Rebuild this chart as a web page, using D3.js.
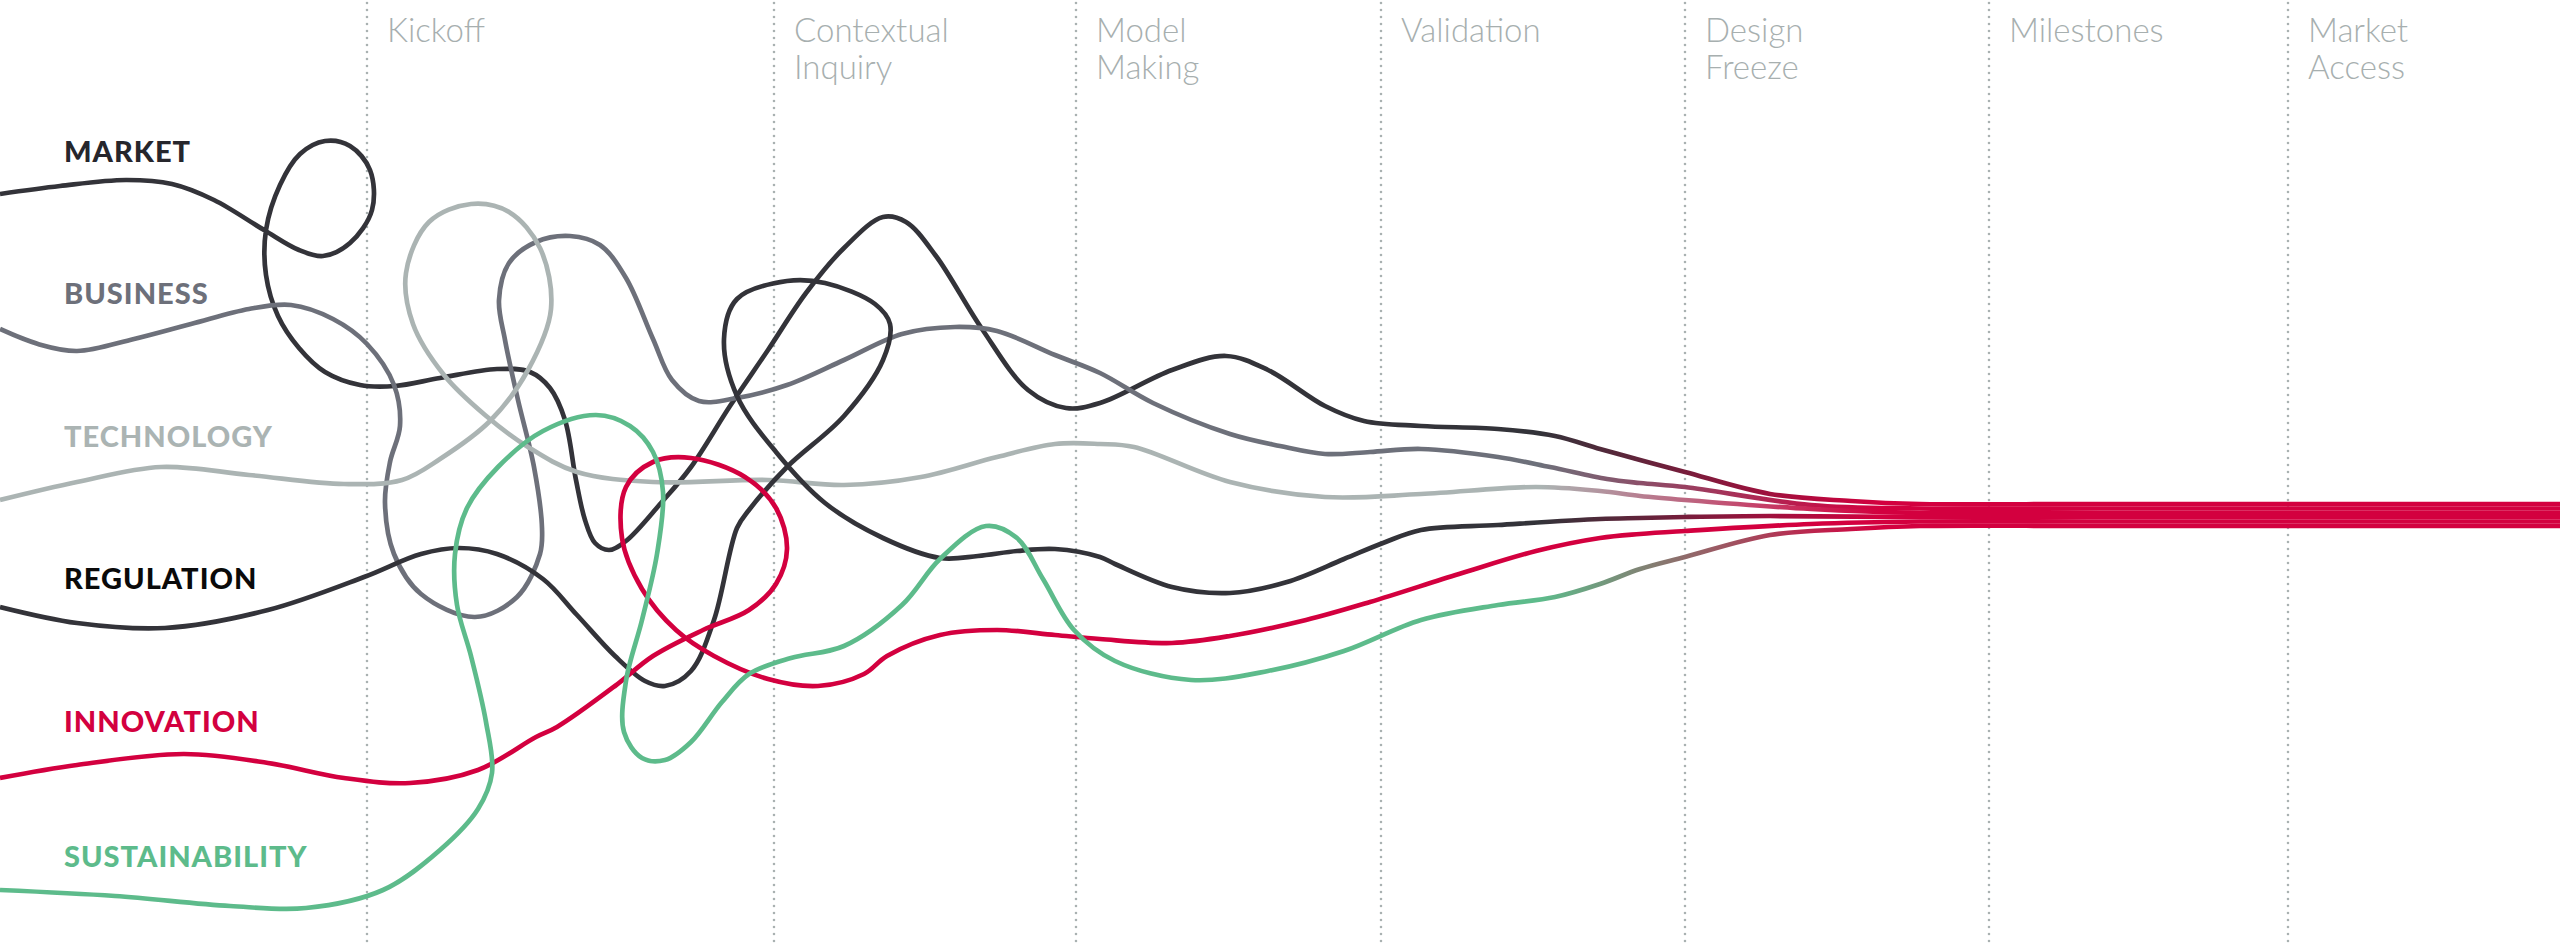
<!DOCTYPE html>
<html>
<head>
<meta charset="utf-8">
<script src="https://cdn.jsdelivr.net/npm/d3@7"></script>
<style>
  html, body { margin: 0; padding: 0; background: #fff; }
  svg { display: block; }
</style>
</head>
<body>
<div id="chart"></div>
<script>
// phases along the timeline (x in tenths of the canvas width units)
const phases = ["Kickoff", "Contextual\nInquiry", "Model\nMaking", "Validation", "Design\nFreeze", "Milestones", "Market\nAccess"];
const phaseX = [36.7, 77.4, 107.6, 138.1, 168.5, 198.9, 228.8];

const categories = ["MARKET", "BUSINESS", "TECHNOLOGY", "REGULATION", "INNOVATION", "SUSTAINABILITY"];
const labelY = [16.15, 30.4, 44.7, 58.9, 73.2, 86.7];
const lineColors = ["#333339", "#6d707a", "#abb4b3", "#333339", "#d3003f", "#5dbb8b"];
const labelColors = ["#26262c", "#6d707a", "#abb4b3", "#0a0a0a", "#d3003f", "#5dbb8b"];
const mergeColor = "#d3003f";
const mergeStart = 154, mergeEnd = 188;

// each thread: [x, y] points in sequence
const market = [[0,19.4],[6,18.6],[12.6,18],[17.2,18.4],[21.4,20],[26.4,23],[29.9,25],[32.3,25.6],[35,24.3],[37.2,21],[37,17],[35,14.6],[32.5,14.1],[30,15.4],[28,18.5],[26.6,23],[26.6,27.5],[27.8,31.6],[29.9,34.8],[32.5,37.2],[36,38.5],[39.5,38.6],[44,37.8],[49.7,36.9],[53,37.2],[55,38.8],[56.5,42],[57.6,48],[58.5,52],[59.5,54.3],[60.9,55],[62.6,54.1],[66.1,50.3],[69.1,46.7],[73,40.6],[76.8,35],[80.6,29.3],[84.4,24.8],[88.3,21.7],[90.6,22.2],[93.6,25.6],[98.2,32.9],[102.8,39],[106.6,40.8],[110,40.3],[117.2,37],[122.6,35.6],[126.8,37],[132.5,40.6],[136.4,42.1],[142.1,42.6],[149.8,42.9],[155.5,43.6],[160,44.9],[164,46],[168.5,47.2],[177,49.4],[185.1,50.1],[192,50.4],[210,50.4],[256,50.4]];
const business = [[0,32.9],[3.8,34.4],[7.7,35.1],[13.4,33.9],[19.1,32.4],[24.9,30.9],[29.1,30.5],[33.3,31.9],[36.7,34.4],[39.4,38.5],[40,42.6],[39,46.2],[38.5,50.3],[39.4,55.4],[42.1,59.4],[47.5,61.7],[51.7,59.7],[54,55.4],[54.2,52.8],[53.4,46.7],[51.8,40],[50.5,34],[49.9,30],[50.9,26.3],[53.6,24.2],[57,23.6],[60,24.5],[62.6,27.8],[65.3,33.9],[67.2,38],[69.9,40.1],[73.7,39.8],[78.7,38.5],[84.4,36],[90.2,33.4],[95.5,32.7],[99.7,33.1],[105.5,35.5],[110,37.3],[115.3,40.3],[123,43.4],[128,44.6],[132.5,45.4],[137,45.2],[142.1,44.9],[149.8,45.7],[155,46.7],[160.7,47.9],[164,48.3],[168.5,48.7],[181.1,50.5],[192,50.85],[210,50.85],[256,50.85]];
const technology = [[0,50],[7.7,48.2],[16.1,46.7],[24.9,47.5],[34.4,48.4],[40.2,48],[44,45.9],[49,42.1],[52.8,37],[55.1,30.9],[54,24.8],[50.9,21.2],[47.1,20.4],[42.9,22.2],[40.6,27.3],[41.3,32.4],[44.4,37.5],[48.5,41.5],[52.8,44.7],[57.7,47.2],[65.3,48.2],[76.8,48],[84.4,48.5],[92.1,47.7],[99.7,45.7],[105.5,44.4],[110,44.4],[113.4,44.7],[123,48.2],[132.5,49.7],[142.1,49.4],[153.6,48.7],[160,49.1],[164,49.6],[168.5,50],[181.1,50.9],[192,51.3],[210,51.3],[256,51.3]];
const regulation = [[0,60.7],[7.7,62.3],[16.5,62.8],[26.8,61],[36.4,57.7],[42.1,55.4],[45.9,54.8],[49.7,55.4],[54.3,57.9],[57.7,61.5],[61.5,65.6],[64.5,68.1],[66.5,68.6],[69.1,67.1],[71.4,62],[73.7,52.8],[74.9,51],[78.7,46.7],[84.4,41.6],[88.3,36],[89,32.4],[87.5,30.4],[82.5,28.3],[78.7,28.1],[73.7,29.9],[72.4,33.9],[73.7,39.6],[77.6,45.2],[82.5,50.3],[88.3,53.8],[94,55.8],[97.8,55.6],[101.7,55.1],[105.5,54.9],[110,55.7],[111.5,56.4],[117.2,58.7],[123,59.3],[128.7,58.2],[134.4,55.9],[138.3,54.3],[142.1,53],[149.8,52.5],[160,51.9],[164,51.8],[168.5,51.7],[177,51.6],[192,51.7],[210,51.7],[256,51.7]];
const innovation = [[0,77.8],[7.7,76.5],[18.4,75.4],[26.8,76.3],[34.4,77.8],[41,78.3],[47.8,77],[53.6,73.7],[55.7,72.7],[61.5,68.6],[65.3,65.6],[70.3,63],[74.9,61],[77.6,58.4],[78.7,54.9],[77.6,50.8],[74.5,47.7],[69.1,45.8],[65.3,46.2],[62.6,48.7],[62.2,53.8],[64.2,58.9],[67.6,63],[71.4,65.6],[76.8,67.9],[81.8,68.6],[86.4,67.4],[88.7,65.6],[94,63.5],[99.7,63],[105.5,63.5],[110,63.9],[117.2,64.3],[123,63.6],[130.6,62],[137,60.2],[145.9,57.4],[153.6,55.1],[160,53.8],[164,53.4],[168.5,53.1],[181.1,52.4],[192,52.15],[210,52.15],[256,52.15]];
const sustainability = [[0,89],[11.5,89.6],[23,90.6],[30.6,90.8],[38.3,89],[44,85],[47.8,80.9],[49.2,77.3],[48.6,72.2],[47.1,65.6],[45.7,60.5],[45.5,55.4],[46.7,50.8],[49.8,46.7],[54.3,43.1],[59.6,41.5],[63,42.6],[65.3,45.2],[66.3,49.2],[65.7,55.4],[64.2,62],[62.6,68.1],[62.4,73.2],[64.2,75.8],[66.5,76],[69.1,74.2],[72.2,70.2],[74.9,67.4],[79.1,65.8],[84.4,64.6],[90.2,60.5],[94,55.9],[98.6,52.6],[101.7,53.8],[104.3,57.9],[107.4,63],[111.5,66.1],[119.1,68],[126.8,67.1],[134.4,65.1],[142.1,62],[149.8,60.5],[155.5,59.7],[160,58.4],[164,56.9],[168.5,55.7],[177,53.5],[185.1,52.9],[192,52.6],[210,52.6],[256,52.6]];

const series = [market, business, technology, regulation, innovation, sustainability];

const width = 2560, height = 945;

const x = d3.scaleLinear().domain([0, 256]).range([0, width]);
const y = d3.scaleLinear().domain([0, 94.5]).range([0, height]);

const svg = d3.select("#chart")
  .append("svg")
  .attr("width", width)
  .attr("height", height);

svg.append("rect")
  .attr("width", width)
  .attr("height", height)
  .attr("fill", "#fff");

// phase dividers
svg.selectAll("line.phase")
  .data(phaseX)
  .enter()
  .append("line")
  .attr("class", "phase")
  .attr("x1", d => x(d))
  .attr("x2", d => x(d))
  .attr("y1", 3)
  .attr("y2", height)
  .style("stroke", "#a9b1b1")
  .style("stroke-width", 2.6)
  .style("stroke-dasharray", "0,7")
  .style("stroke-linecap", "round");

const phaseText = svg.selectAll("text.phase")
  .data(phases)
  .enter()
  .append("text")
  .attr("class", "phase")
  .attr("x", (d, i) => x(phaseX[i]) + 20)
  .attr("y", 42)
  .style("font-family", "Lato, 'Open Sans', sans-serif")
  .style("font-weight", 300)
  .style("font-size", "33px")
  .style("fill", "#a7afaf");

phaseText.selectAll("tspan")
  .data(d => d.split("\n"))
  .enter()
  .append("tspan")
  .attr("x", function () { return d3.select(this.parentNode).attr("x"); })
  .attr("dy", (d, i) => i === 0 ? 0 : 37)
  .text(d => d);

// colour shift into the merged red bundle
const defs = svg.append("defs");
lineColors.forEach((c, i) => {
  const g = defs.append("linearGradient")
    .attr("id", "grad" + i)
    .attr("gradientUnits", "userSpaceOnUse")
    .attr("x1", x(mergeStart)).attr("x2", x(mergeEnd))
    .attr("y1", 0).attr("y2", 0);
  g.append("stop").attr("offset", 0).attr("stop-color", c);
  g.append("stop").attr("offset", 1).attr("stop-color", mergeColor);
});

const line = d3.line()
  .x(d => x(d[0]))
  .y(d => y(d[1]))
  .curve(d3.curveCatmullRom.alpha(0.5));

svg.selectAll("path.thread")
  .data(series)
  .enter()
  .append("path")
  .attr("class", "thread")
  .attr("d", line)
  .style("fill", "none")
  .style("stroke", (d, i) => "url(#grad" + i + ")")
  .style("stroke-width", 4.7);

// category labels
svg.selectAll("text.cat")
  .data(categories)
  .enter()
  .append("text")
  .attr("class", "cat")
  .attr("x", x(6.4))
  .attr("y", (d, i) => y(labelY[i]))
  .style("font-family", "Lato, 'Open Sans', sans-serif")
  .style("font-weight", 900)
  .style("font-size", "29px")
  .style("letter-spacing", "1px")
  .style("fill", (d, i) => labelColors[i])
  .text(d => d);
</script>
</body>
</html>
